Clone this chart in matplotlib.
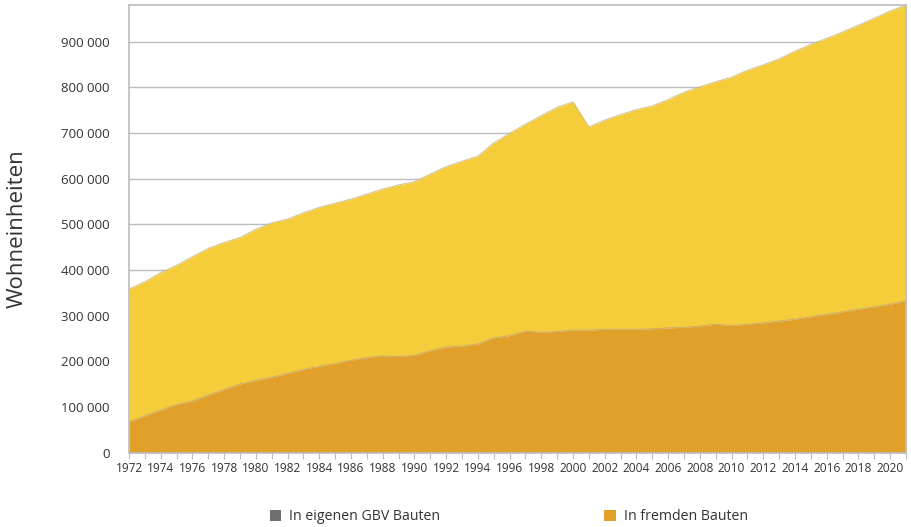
import matplotlib
matplotlib.use("Agg")
import matplotlib.pyplot as plt
from matplotlib.patches import Patch
import numpy as np

years = list(range(1972, 2022))
total = [358000, 374000, 394000, 410000, 429000, 447000, 460000, 471000, 489000, 503000,
         511000, 525000, 537000, 546000, 555000, 566000, 577000, 586000, 593000, 610000,
         626000, 638000, 649000, 678000, 699000, 719000, 738000, 756000, 768000, 713000,
         728000, 740000, 751000, 759000, 773000, 789000, 801000, 812000, 822000, 837000,
         849000, 862000, 879000, 894000, 907000, 921000, 936000, 951000, 967000, 980000]
lower = [67000, 80000, 93000, 105000, 113000, 126000, 138000, 150000, 158000, 165000,
         173000, 182000, 189000, 195000, 202000, 208000, 212000, 210000, 213000, 223000,
         231000, 233000, 238000, 251000, 256000, 266000, 263000, 265000, 268000, 268000,
         270000, 270000, 270000, 271000, 273000, 274000, 277000, 281000, 278000, 281000,
         284000, 288000, 292000, 297000, 303000, 308000, 314000, 319000, 325000, 332000]
y_ticks = [0, 100000, 200000, 300000, 400000, 500000, 600000, 700000, 800000, 900000]
x_labels = list(range(1972, 2021, 2))
legend_labels = ["In eigenen GBV Bauten", "In fremden Bauten"]

plt.rcParams['font.family'] = ['Open Sans', 'DejaVu Sans']
text_color = '#333333'
grid_color = '#bcbcc0'

fig = plt.figure(figsize=(9.11, 5.27), dpi=100)
ax = fig.add_axes([129/911, 1 - 452.5/527, (906-129)/911, (452.5-5)/527])

x = np.array(years)
ax.fill_between(x, lower, total, color='#F5CD3A', lw=0, zorder=2)
ax.fill_between(x, 0, lower, color='#E0A02A', lw=0, zorder=2)
ax.plot(x, total, color='#c9b98a', lw=0.6, zorder=3)
ax.plot(x, lower, color='#c9a870', lw=0.6, zorder=3)

ax.set_xlim(1972, 2021)
ax.set_ylim(0, 980000)
ax.set_yticks(y_ticks)
ax.set_yticklabels([f"{v:,}".replace(",", " ") for v in y_ticks], fontsize=9.5, color=text_color)
ax.set_xticks(years, minor=False)
ax.set_xticklabels([str(y) if y in x_labels else "" for y in years], fontsize=8.6, color=text_color)
ax.tick_params(axis='x', length=4, width=0.8, color=grid_color, pad=3)
ax.tick_params(axis='y', length=0, pad=14)
ax.yaxis.grid(True, color=grid_color, lw=1.0, zorder=1)
ax.set_axisbelow(True)
for s in ax.spines.values():
    s.set_color(grid_color)
    s.set_linewidth(1.2)

fig.text(17/911, 1 - 229/527, "Wohneinheiten", rotation=90, fontsize=16,
         color=text_color, ha='center', va='center')

handles = [Patch(facecolor='#6f6f6f', edgecolor='none'),
           Patch(facecolor='#E0A02A', edgecolor='none')]
fig.legend(handles, legend_labels, loc='center', bbox_to_anchor=(509/911, 1 - 517/527),
           ncol=2, frameon=False, fontsize=10.2, handlelength=0.8, handleheight=0.8,
           columnspacing=11.56, handletextpad=0.6, labelcolor=text_color)

fig.savefig("out.png", dpi=100)
